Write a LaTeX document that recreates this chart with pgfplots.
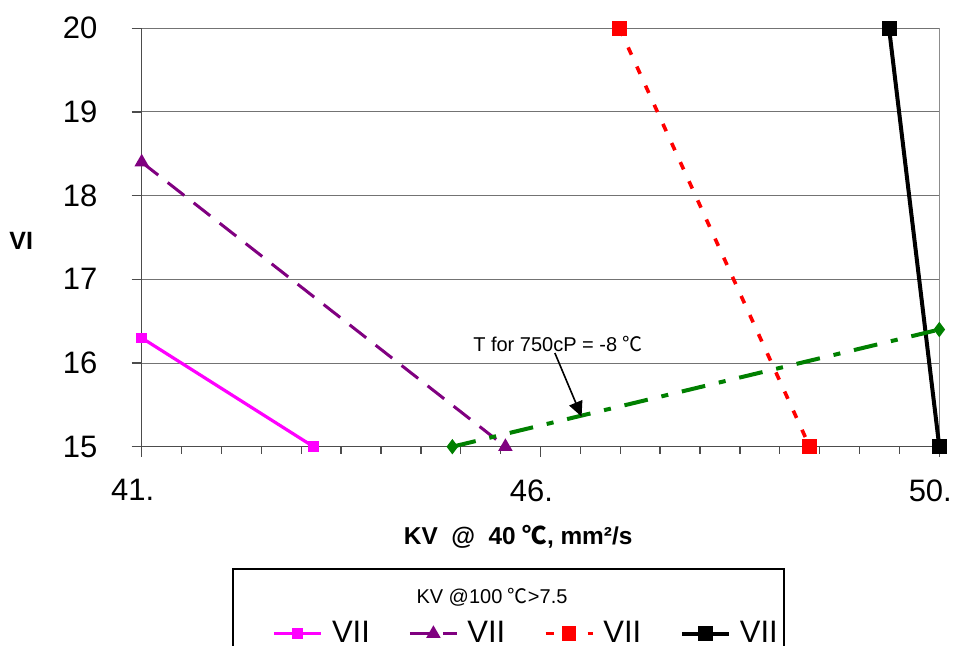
\documentclass[border=0pt]{standalone}
\usepackage{fontspec}
\setmainfont{Liberation Sans}
\newfontfamily\cjk{Noto Sans CJK SC}
\usepackage{pgfplots}
\pgfplotsset{compat=1.18}
\usetikzlibrary{arrows.meta}

\definecolor{seriesmagenta}{RGB}{255,0,255}
\definecolor{seriespurple}{RGB}{128,0,128}
\definecolor{seriesred}{RGB}{255,0,0}
\definecolor{seriesgreen}{RGB}{0,128,0}

\newcommand{\degC}{{\cjk ℃}}
\newcommand{\ticksize}{\fontsize{15.5}{18}\selectfont}
\newcommand{\smallsize}{\fontsize{10}{12}\selectfont}

\begin{document}
\begin{tikzpicture}[x=1pt,y=1pt]
% page frame
\useasboundingbox (-70.85,-99.65) rectangle (406.15,223.35);
% plot area border
\draw[black!45, line width=0.6pt] (0,0) rectangle (398.8,209.2);
\begin{axis}[
  at={(0,0)}, anchor=south west,
  scale only axis, width=398.8pt, height=209.2pt,
  xmin=0, xmax=20, ymin=15, ymax=20,
  clip=false,
  axis x line*=bottom, axis y line*=left,
  axis line style={black!70, line width=0.8pt, -},
  xtick={0,10,20}, xticklabels={41.,46.,50.},
  minor xtick={1,...,19},
  ytick={15,16,17,18,19,20}, yticklabels={15,16,17,18,19,20},
  tick align=outside, tick pos=left,
  major tick length=5pt, minor tick length=3.5pt,
  every tick/.style={black!70, line width=0.7pt},
  ymajorgrids, grid style={black!55, line width=0.5pt},
  ticklabel style={font=\ticksize},
  xticklabel style={anchor=north, inner sep=0pt, xshift=-4.5pt, yshift=-11.15pt},
  yticklabel style={anchor=east, inner sep=0pt, xshift=-17pt},
  xlabel={KV\ \ @\ \ 40\ \degC, mm²/s},
  ylabel={VI},
  every axis x label/.style={at={(axis description cs:0.472,-0.2146)}, anchor=center, font=\bfseries\fontsize{12.2}{14}\selectfont},
  every axis y label/.style={at={(axis description cs:-0.151,0.493)}, anchor=center, font=\bfseries\fontsize{12.5}{14}\selectfont},
  legend columns=4,
  legend image code/.code={\draw[mark repeat=2, mark phase=2, #1] plot coordinates {(0pt,0pt) (11.75pt,0pt) (23.5pt,0pt)};},
  legend style={at={(axis description cs:0.1634,-0.4178)}, anchor=north west,
    draw=none, fill=none, inner sep=0pt, outer sep=0pt, font=\ticksize,
    nodes={inner sep=0pt}, row sep=20pt,
    /tikz/every odd column/.append style={column sep=4.5pt},
    /tikz/every even column/.append style={column sep=19.25pt}},
  legend cell align=left,
]
\addplot[seriesmagenta, line width=1.6pt, mark=square*, mark size=1.8pt, mark options={solid}]
  coordinates {(0,16.3) (4.31,15)};
\addlegendentry{VII}
\addplot[seriespurple, line width=1.5pt, dash pattern=on 10.5pt off 6pt, mark=triangle*, mark size=2.7pt, mark options={solid}]
  coordinates {(0,18.4) (9.12,15)};
\addlegendentry{VII}
\addplot[seriesred, line width=1.8pt, dash pattern=on 4pt off 6.5pt, mark=square*, mark size=2.75pt, mark options={solid}]
  coordinates {(11.98,20) (16.75,15)};
\addlegendentry{VII}
\addplot[black, line width=2pt, mark=square*, mark size=2.75pt, mark options={solid}]
  coordinates {(18.74,20) (20,15)};
\addlegendentry{VII}
\addplot[seriesgreen, line width=2pt, dash pattern=on 12pt off 7pt on 3.5pt off 7pt, mark=diamond*, mark size=2.2pt, mark options={solid}]
  coordinates {(7.79,15) (20,16.4)};
\addlegendentry{VII}
% annotation pointing at the green series
\draw[-{Triangle[length=7.5pt,width=7pt]}, line width=0.8pt] (axis cs:10.36,16.12) -- (axis cs:11.03,15.36);
\node[font=\smallsize] at (axis cs:10.44,16.23) {T for 750cP = -8 \degC};
\end{axis}
% legend frame and heading
\draw[line width=0.75pt] (45.65,-61.15) rectangle (321.15,-140);
\node[font=\smallsize] at (175.15,-75.15) {KV @100 \degC>7.5};
\end{tikzpicture}
\end{document}
